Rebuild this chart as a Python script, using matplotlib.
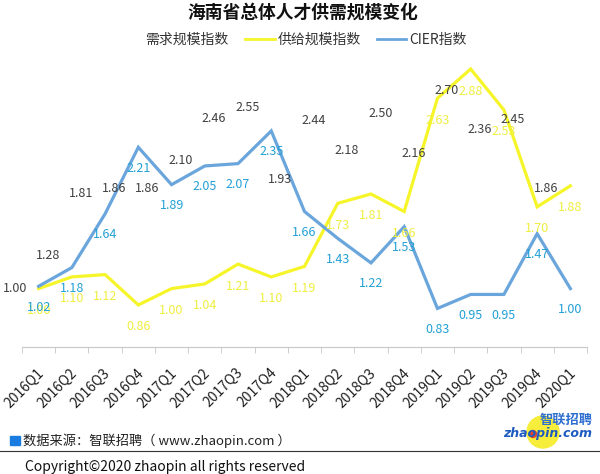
import matplotlib
matplotlib.use("Agg")
from matplotlib import pyplot as plt
from matplotlib.lines import Line2D
from matplotlib.patches import Ellipse, Rectangle
import matplotlib.transforms as mtransforms
import numpy as np

plt.rcParams['font.family'] = ['Noto Sans CJK SC', 'DejaVu Sans']

quarters = ["2016Q1", "2016Q2", "2016Q3", "2016Q4", "2017Q1", "2017Q2", "2017Q3", "2017Q4",
            "2018Q1", "2018Q2", "2018Q3", "2018Q4", "2019Q1", "2019Q2", "2019Q3", "2019Q4", "2020Q1"]
demand = [1.00, 1.28, 1.81, 1.86, 1.86, 2.10, 2.46, 2.55, 1.93, 2.44, 2.18, 2.50, 2.16, 2.70, 2.36, 2.45, 1.86]
supply = [1.00, 1.10, 1.12, 0.86, 1.00, 1.04, 1.21, 1.10, 1.19, 1.73, 1.81, 1.66, 2.63, 2.88, 2.53, 1.70, 1.88]
cier = [1.02, 1.18, 1.64, 2.21, 1.89, 2.05, 2.07, 2.35, 1.66, 1.43, 1.22, 1.53, 0.83, 0.95, 0.95, 1.47, 1.00]

yellow = "#F5F52A"
yellow_txt = "#EEEE40"
blue = "#6AA6DC"
blue_txt = "#22A0D6"
grey_txt = "#404040"

fig = plt.figure(figsize=(6, 4.74), dpi=100)
ax = fig.add_axes([22 / 600, 1 - 347 / 474, 565 / 600, 292 / 474])
x = np.arange(len(quarters))

ax.plot(x, supply, color=yellow, lw=2.3, solid_joinstyle="miter")
ax.plot(x, cier, color=blue, lw=2.3, solid_joinstyle="miter")

for i in x:
    ax.annotate(f"{demand[i]:.2f}", (i, demand[i]), xytext=(-24, 0), textcoords="offset pixels",
                ha="center", va="center", fontsize=9, color=grey_txt)
    ax.annotate(f"{supply[i]:.2f}", (i, supply[i]), xytext=(0, -22), textcoords="offset pixels",
                ha="center", va="center", fontsize=9, color=yellow_txt)
    ax.annotate(f"{cier[i]:.2f}", (i, cier[i]), xytext=(0, -21), textcoords="offset pixels",
                ha="center", va="center", fontsize=9, color=blue_txt)

ax.set_xlim(-0.5, len(quarters) - 0.5)
ax.set_ylim(0.5, 3.0)
ax.set_yticks([])
for s in ["left", "right", "top"]:
    ax.spines[s].set_visible(False)
ax.spines["bottom"].set_color("#C8C8C8")
ax.set_xticks(x)
ax.set_xticklabels(quarters, rotation=45, ha="right", va="center", rotation_mode="anchor",
                   fontsize=10, color="#202020")
ax.tick_params(axis="x", which="major", length=0, pad=17)
shift = mtransforms.ScaledTranslation(3 / 100, 0, fig.dpi_scale_trans)
for lab in ax.get_xticklabels():
    lab.set_transform(lab.get_transform() + shift)
ax.set_xticks(np.arange(-0.5, len(quarters), 1), minor=True)
ax.tick_params(axis="x", which="minor", length=4, color="#C8C8C8")

fig.text(0.505, 1 - 13 / 474, "海南省总体人才供需规模变化", ha="center", va="center",
         fontsize=12.8, fontweight="bold", color="#111111")

handles = [Line2D([], [], color="white", lw=2),
           Line2D([], [], color=yellow, lw=2),
           Line2D([], [], color=blue, lw=2)]
fig.legend(handles, ["需求规模指数", "供给规模指数", "CIER指数"], loc="center",
           bbox_to_anchor=(290 / 600, 1 - 40 / 474), ncol=3, frameon=False, fontsize=10,
           handlelength=2.1, handletextpad=0.2, columnspacing=1.2, labelcolor="#333333")

fig.add_artist(Rectangle((10 / 600, 1 - 445 / 474), 10 / 600, 9 / 474, color="#1A7BE0"))
fig.text(23 / 600, 1 - 441 / 474, "数据来源：智联招聘（ www.zhaopin.com ）", color="#222222",
         fontsize=9.5, va="center", ha="left")
fig.add_artist(Line2D([0, 1], [1 - 451 / 474, 1 - 451 / 474], color="#333333", lw=0.8))
fig.text(25 / 600, 1 - 467 / 474, "Copyright©2020 zhaopin all rights reserved", color="#111111",
         fontsize=10, va="center", ha="left")

fig.add_artist(Ellipse((543 / 600, 1 - 432 / 474), 32 / 600, 32 / 474, color="#F6EE3A", zorder=1))
fig.add_artist(Ellipse((533 / 600, 1 - 434 / 474), 7 / 600, 7 / 474, color="#E8452A", zorder=2))
fig.text(593 / 600, 1 - 420 / 474, "智联招聘", color="#2E6FD0", fontsize=9.5, fontstyle="italic",
         fontweight="bold", ha="right", va="center", zorder=3)
fig.text(592 / 600, 1 - 434 / 474, "zhaopin.com", color="#1E5BC0", fontsize=9, fontstyle="italic",
         fontweight="bold", ha="right", va="center", family="DejaVu Sans", zorder=3)

fig.savefig("out.png", dpi=100)
